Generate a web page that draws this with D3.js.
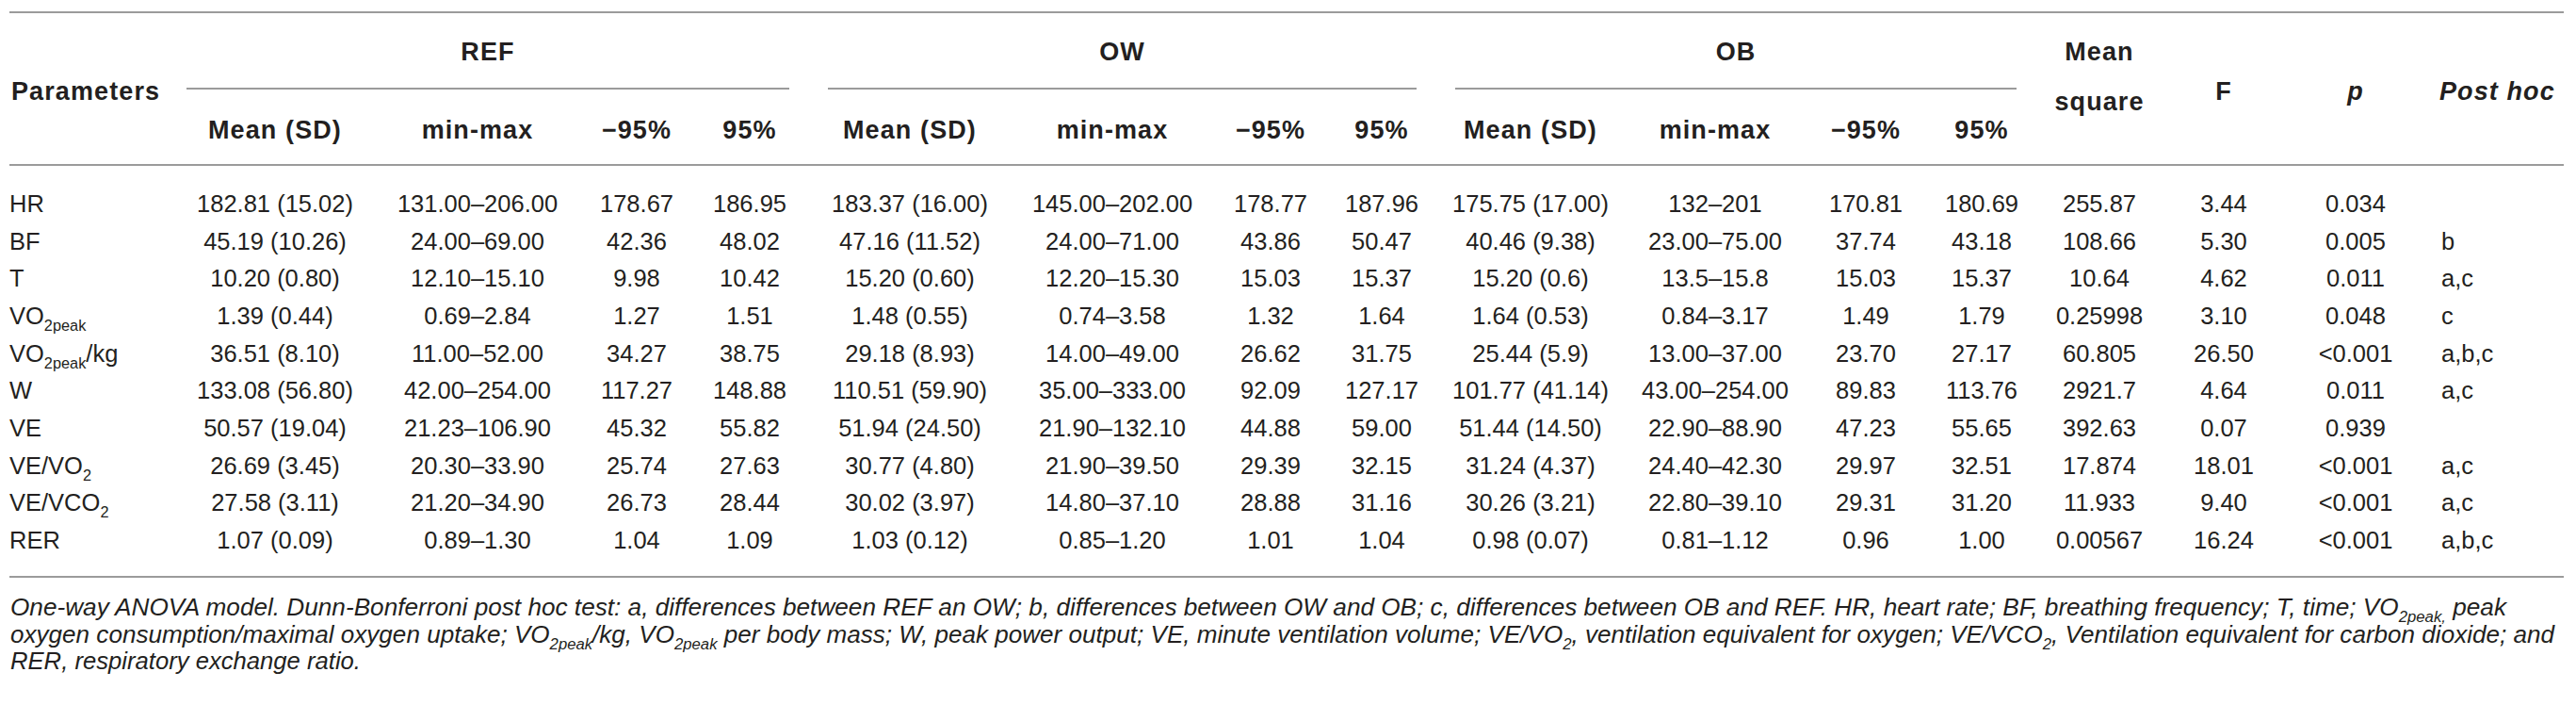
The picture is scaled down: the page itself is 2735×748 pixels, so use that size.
<!DOCTYPE html>
<html>
<head>
<meta charset="utf-8">
<script src="https://cdn.jsdelivr.net/npm/d3@7"></script>
<style>
  body { margin: 0; background: #fff; }
  svg { display: block; }
</style>
</head>
<body>
<div id="table"></div>
<script>
// Table contents, one array per column
const parameters = ["HR", "BF", "T", "VO<sub>2peak</sub>", "VO<sub>2peak</sub>/kg", "W", "VE", "VE/VO<sub>2</sub>", "VE/VCO<sub>2</sub>", "RER"];

const refMean = ["182.81 (15.02)", "45.19 (10.26)", "10.20 (0.80)", "1.39 (0.44)", "36.51 (8.10)", "133.08 (56.80)", "50.57 (19.04)", "26.69 (3.45)", "27.58 (3.11)", "1.07 (0.09)"];
const refRange = ["131.00–206.00", "24.00–69.00", "12.10–15.10", "0.69–2.84", "11.00–52.00", "42.00–254.00", "21.23–106.90", "20.30–33.90", "21.20–34.90", "0.89–1.30"];
const refLow = ["178.67", "42.36", "9.98", "1.27", "34.27", "117.27", "45.32", "25.74", "26.73", "1.04"];
const refHigh = ["186.95", "48.02", "10.42", "1.51", "38.75", "148.88", "55.82", "27.63", "28.44", "1.09"];

const owMean = ["183.37 (16.00)", "47.16 (11.52)", "15.20 (0.60)", "1.48 (0.55)", "29.18 (8.93)", "110.51 (59.90)", "51.94 (24.50)", "30.77 (4.80)", "30.02 (3.97)", "1.03 (0.12)"];
const owRange = ["145.00–202.00", "24.00–71.00", "12.20–15.30", "0.74–3.58", "14.00–49.00", "35.00–333.00", "21.90–132.10", "21.90–39.50", "14.80–37.10", "0.85–1.20"];
const owLow = ["178.77", "43.86", "15.03", "1.32", "26.62", "92.09", "44.88", "29.39", "28.88", "1.01"];
const owHigh = ["187.96", "50.47", "15.37", "1.64", "31.75", "127.17", "59.00", "32.15", "31.16", "1.04"];

const obMean = ["175.75 (17.00)", "40.46 (9.38)", "15.20 (0.6)", "1.64 (0.53)", "25.44 (5.9)", "101.77 (41.14)", "51.44 (14.50)", "31.24 (4.37)", "30.26 (3.21)", "0.98 (0.07)"];
const obRange = ["132–201", "23.00–75.00", "13.5–15.8", "0.84–3.17", "13.00–37.00", "43.00–254.00", "22.90–88.90", "24.40–42.30", "22.80–39.10", "0.81–1.12"];
const obLow = ["170.81", "37.74", "15.03", "1.49", "23.70", "89.83", "47.23", "29.97", "29.31", "0.96"];
const obHigh = ["180.69", "43.18", "15.37", "1.79", "27.17", "113.76", "55.65", "32.51", "31.20", "1.00"];

const meanSquare = ["255.87", "108.66", "10.64", "0.25998", "60.805", "2921.7", "392.63", "17.874", "11.933", "0.00567"];
const fValues = ["3.44", "5.30", "4.62", "3.10", "26.50", "4.64", "0.07", "18.01", "9.40", "16.24"];
const pValues = ["0.034", "0.005", "0.011", "0.048", "<0.001", "0.011", "0.939", "<0.001", "<0.001", "<0.001"];
const postHoc = ["", "b", "a,c", "c", "a,b,c", "a,c", "", "a,c", "a,c", "a,b,c"];

const groups = ["REF", "OW", "OB"];
const subHeaders = ["Mean (SD)", "min-max", "−95%", "95%"];

const footnotes = [
    "One-way ANOVA model. Dunn-Bonferroni post hoc test: a, differences between REF an OW; b, differences between OW and OB; c, differences between OB and REF. HR, heart rate; BF, breathing frequency; T, time; VO<sub>2peak,</sub> peak",
    "oxygen consumption/maximal oxygen uptake; VO<sub>2peak</sub>/kg, VO<sub>2peak</sub> per body mass; W, peak power output; VE, minute ventilation volume; VE/VO<sub>2</sub>, ventilation equivalent for oxygen; VE/VCO<sub>2</sub>, Ventilation equivalent for carbon dioxide; and",
    "RER, respiratory exchange ratio."
];

// Layout
const width = 2735, height = 748;
const fontFamily = "'Liberation Sans', Arial, Helvetica, sans-serif";
const textColor = "#231f20";
const ruleColor = "#9b9b9b";

const columns = [
    { key: "refMean", values: refMean }, { key: "refRange", values: refRange },
    { key: "refLow", values: refLow }, { key: "refHigh", values: refHigh },
    { key: "owMean", values: owMean }, { key: "owRange", values: owRange },
    { key: "owLow", values: owLow }, { key: "owHigh", values: owHigh },
    { key: "obMean", values: obMean }, { key: "obRange", values: obRange },
    { key: "obLow", values: obLow }, { key: "obHigh", values: obHigh },
    { key: "ms", values: meanSquare }, { key: "f", values: fValues },
    { key: "p", values: pValues }
];

// column centres (pixels)
const colX = d3.scaleOrdinal()
    .domain(columns.map(c => c.key))
    .range([292, 507, 676, 796, 966, 1181, 1349, 1467, 1625, 1821, 1981, 2104, 2229, 2361, 2501]);

// group spans
const groupSpan = d3.scaleOrdinal().domain(groups).range([[198, 838], [879, 1504], [1545, 2141]]);

// row baselines
const rowY = d3.scaleLinear().domain([0, parameters.length - 1]).range([225, 582]);

const svg = d3.select("#table").append("svg")
    .attr("width", width)
    .attr("height", height)
    .style("font-family", fontFamily)
    .attr("fill", textColor);

// write text with <sub> parts as tspans
function rich(sel, str, size) {
    let shift = 0;
    str.split(/(<sub>.*?<\/sub>)/).forEach(part => {
        if (!part) return;
        const m = part.match(/^<sub>(.*)<\/sub>$/);
        const target = m ? size * 0.28 : 0;
        const t = sel.append("tspan")
            .attr("dy", target - shift)
            .text(m ? m[1] : part);
        if (m) t.attr("font-size", size * 0.64);
        shift = target;
    });
}

// Rules
const rules = [
    { x1: 10, x2: 2722, y: 13 },
    { x1: 10, x2: 2722, y: 175 },
    { x1: 10, x2: 2722, y: 612 }
];
svg.selectAll(".rule")
    .data(rules)
    .enter()
    .append("line")
    .attr("class", "rule")
    .attr("x1", d => d.x1)
    .attr("x2", d => d.x2)
    .attr("y1", d => d.y)
    .attr("y2", d => d.y)
    .attr("stroke", ruleColor)
    .attr("stroke-width", 2);

svg.selectAll(".group-rule")
    .data(groups)
    .enter()
    .append("line")
    .attr("class", "group-rule")
    .attr("x1", d => groupSpan(d)[0])
    .attr("x2", d => groupSpan(d)[1])
    .attr("y1", 94)
    .attr("y2", 94)
    .attr("stroke", ruleColor)
    .attr("stroke-width", 2);

// Header
const head = svg.append("g")
    .attr("font-weight", "bold")
    .attr("font-size", 27)
    .attr("letter-spacing", 1.1);

head.selectAll(".group")
    .data(groups)
    .enter()
    .append("text")
    .attr("x", d => (groupSpan(d)[0] + groupSpan(d)[1]) / 2)
    .attr("y", 64)
    .attr("text-anchor", "middle")
    .text(d => d);

head.selectAll(".sub")
    .data(columns.slice(0, 12))
    .enter()
    .append("text")
    .attr("x", d => colX(d.key))
    .attr("y", 147)
    .attr("text-anchor", "middle")
    .text((d, i) => subHeaders[i % 4]);

head.append("text").attr("x", 12).attr("y", 106).text("Parameters");
head.append("text").attr("x", colX("ms")).attr("y", 64).attr("text-anchor", "middle").text("Mean");
head.append("text").attr("x", colX("ms")).attr("y", 117).attr("text-anchor", "middle").text("square");
head.append("text").attr("x", colX("f")).attr("y", 106).attr("text-anchor", "middle").text("F");
head.append("text").attr("x", colX("p")).attr("y", 106).attr("text-anchor", "middle")
    .attr("font-style", "italic").text("p");
head.append("text").attr("x", 2590).attr("y", 106)
    .attr("font-style", "italic").text("Post hoc");

// Body
const body = svg.append("g").attr("font-size", 25.5);

body.selectAll(".param")
    .data(parameters)
    .enter()
    .append("text")
    .attr("x", 10)
    .attr("y", (d, i) => rowY(i))
    .each(function (d) { rich(d3.select(this), d, 25.5); });

columns.forEach(col => {
    body.selectAll(".c-" + col.key)
        .data(col.values)
        .enter()
        .append("text")
        .attr("x", colX(col.key))
        .attr("y", (d, i) => rowY(i))
        .attr("text-anchor", "middle")
        .text(d => d);
});

body.selectAll(".post")
    .data(postHoc)
    .enter()
    .append("text")
    .attr("x", 2592)
    .attr("y", (d, i) => rowY(i))
    .text(d => d);

// Footnote
const lineEnds = [2661, 2712, 383];
svg.append("g")
    .attr("font-size", 25.5)
    .attr("font-style", "italic")
    .selectAll("text")
    .data(footnotes)
    .enter()
    .append("text")
    .attr("x", 11)
    .attr("y", (d, i) => 653 + i * 28.7)
    .attr("textLength", (d, i) => lineEnds[i] - 11)
    .attr("lengthAdjust", "spacingAndGlyphs")
    .each(function (d) { rich(d3.select(this), d, 25.5); });
</script>
</body>
</html>
